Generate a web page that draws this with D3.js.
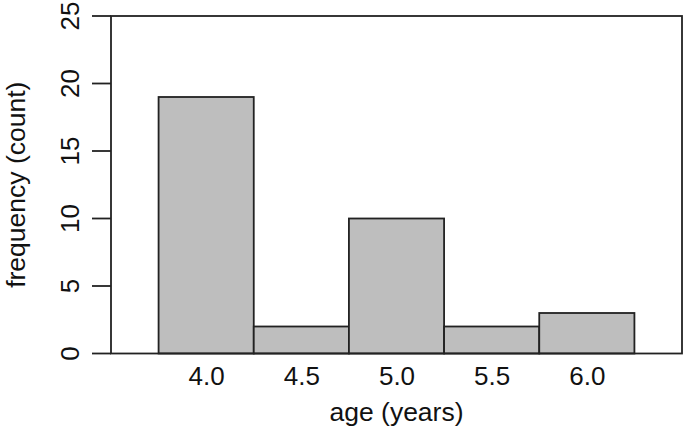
<!DOCTYPE html>
<html>
<head>
<meta charset="utf-8">
<script src="https://cdn.jsdelivr.net/npm/d3@7"></script>
<style>
  body { margin: 0; background: #fff; }
  text { font-family: "Liberation Sans", Arial, sans-serif; fill: #111; }
</style>
</head>
<body>
<div id="chart"></div>
<script>
// histogram of ages, bin width 0.5
const ages = [4.0, 4.5, 5.0, 5.5, 6.0]
const counts = [19, 2, 10, 2, 3]
const yTicks = [0, 5, 10, 15, 20, 25]
const xTickLabels = ['4.0', '4.5', '5.0', '5.5', '6.0']

const width = 685, height = 433
const plotLeft = 111, plotRight = 682, plotTop = 16, plotBottom = 353.5

const svg = d3.select('#chart').append('svg')
  .attr('width', width)
  .attr('height', height)

const x = d3.scaleLinear().domain([3.5, 6.5]).range([plotLeft, plotRight])
const y = d3.scaleLinear().domain([0, 25]).range([plotBottom, plotTop])

const ink = '#222'
const fontSize = '26px'

// bars
svg.selectAll('rect.bar')
  .data(ages)
  .enter()
  .append('rect')
    .attr('class', 'bar')
    .attr('x', d => x(d - 0.25))
    .attr('width', d => x(d + 0.25) - x(d - 0.25))
    .attr('y', (d, i) => y(counts[i]))
    .attr('height', (d, i) => y(0) - y(counts[i]))
    .style('fill', '#bebebe')
    .style('stroke', ink)
    .style('stroke-width', 1.8)

// frame
svg.append('rect')
  .attr('x', plotLeft).attr('y', plotTop)
  .attr('width', plotRight - plotLeft).attr('height', plotBottom - plotTop)
  .style('fill', 'none')
  .style('stroke', ink)
  .style('stroke-width', 1.8)

// y axis (ticks pointing left, labels rotated)
const yAxis = svg.append('g')
  .attr('transform', `translate(${plotLeft},0)`)
  .call(d3.axisLeft(y).tickValues(yTicks).tickSize(19).tickFormat(d3.format('d')))
yAxis.select('.domain').remove()
yAxis.selectAll('line').style('stroke', ink).style('stroke-width', 1.8)
yAxis.selectAll('.tick').attr('transform', null)
yAxis.selectAll('.tick line').attr('y1', d => y(d)).attr('y2', d => y(d))
yAxis.selectAll('text')
  .attr('x', null).attr('dy', null).attr('y', null)
  .attr('transform', d => `translate(-32,${y(d)}) rotate(-90)`)
  .style('text-anchor', 'middle')
  .style('font-size', fontSize)
  .style('font-family', '"Liberation Sans", Arial, sans-serif')
  .style('fill', '#111')

// x axis labels, no tick marks
const xAxis = svg.append('g')
  .attr('transform', `translate(0,${plotBottom})`)
  .call(d3.axisBottom(x).tickValues(ages).tickSize(0).tickFormat((d, i) => xTickLabels[i]))
xAxis.select('.domain').remove()
xAxis.selectAll('text')
  .attr('dy', null)
  .attr('y', 31)
  .style('font-size', fontSize)
  .style('font-family', '"Liberation Sans", Arial, sans-serif')
  .style('fill', '#111')

// axis titles
svg.append('text')
  .attr('x', (plotLeft + plotRight) / 2)
  .attr('y', 421)
  .attr('text-anchor', 'middle')
  .style('font-size', '26.5px')
  .text('age (years)')

svg.append('text')
  .attr('transform', `translate(25,${(plotTop + plotBottom) / 2}) rotate(-90)`)
  .attr('text-anchor', 'middle')
  .style('font-size', '26.5px')
  .text('frequency (count)')
</script>
</body>
</html>
